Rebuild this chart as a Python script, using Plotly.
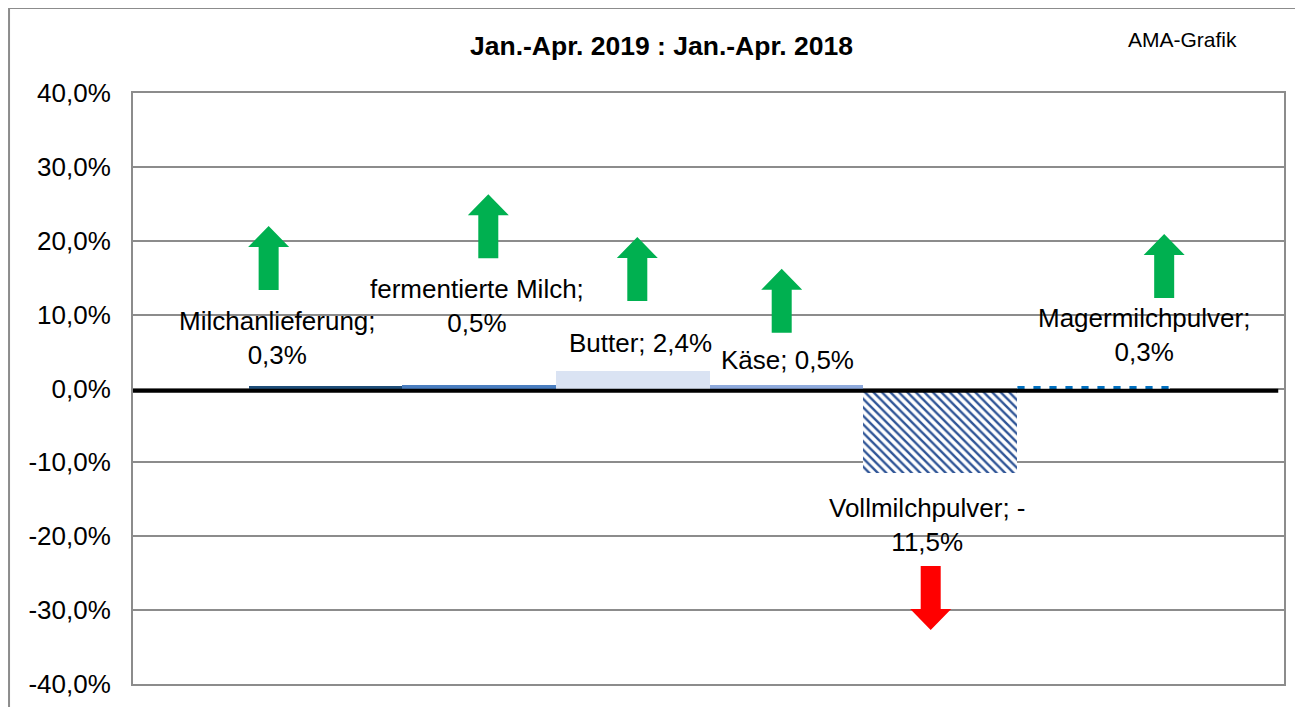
import plotly.graph_objects as go

# Daten
kategorien = ["Milchanlieferung", "fermentierte Milch", "Butter", "Käse",
              "Vollmilchpulver", "Magermilchpulver"]
werte = [0.3, 0.5, 2.4, 0.5, -11.5, 0.3]
x_pos = [1, 2, 3, 4, 5, 6]

# Beschriftungen (Position der Datenbeschriftung)
label_x = [0.69, 1.985, 3.05, 4.01, 4.92, 6.33]
label_y = [6.8, 11.2, 6.2, 3.9, -18.5, 7.2]
label_umbruch = [True, True, False, False, True, True]

# Pfeile (Spitze)
pfeil_x = [0.63, 2.06, 3.03, 3.97, 4.94, 6.46]
pfeil_spitze = [22.0, 26.3, 20.5, 16.2, -32.7, 20.9]

y_ticks = [-40, -30, -20, -10, 0, 10, 20, 30, 40]

farben = ["#1F4E79", "#4A7EC0", "#DAE3F3", "#8FAADC", "#2F5597", "#0070C0"]
muster = ["", "", "", "", "\\", "|"]
muster_groesse = [8, 8, 8, 8, 6, 16]
muster_dichte = [0.3, 0.3, 0.3, 0.3, 0.4, 0.45]

FONT = "Arial, Liberation Sans, sans-serif"


def prozent(v):
    return f"{v:.1f}".replace(".", ",") + "%"


def beschriftung(kat, v, umbruch):
    zahl = prozent(abs(v))
    vz = "-" if v < 0 else ""
    if umbruch:
        return f"{kat}; {vz}<br>{zahl}" if vz else f"{kat};<br>{zahl}"
    return f"{kat}; {vz}{zahl}"


fig = go.Figure()

# ein Balken je Kategorie (Farbe / Muster unterschiedlich)
for kat, xp, v, farbe, m, gr, di in zip(kategorien, x_pos, werte, farben,
                                         muster, muster_groesse, muster_dichte):
    if m:
        marker = dict(color="white", line=dict(width=0),
                      pattern=dict(shape=m, fgcolor=farbe, bgcolor="white",
                                   size=gr, solidity=di, fillmode="replace"))
    else:
        marker = dict(color=farbe, line=dict(width=0))
    fig.add_trace(go.Bar(x=[xp], y=[v], width=1, name=kat, marker=marker,
                         hoverinfo="skip"))

# Datenbeschriftungen
for kat, v, lx, ly, umb in zip(kategorien, werte, label_x, label_y, label_umbruch):
    fig.add_annotation(x=lx, y=ly, xref="x", yref="y",
                       text=beschriftung(kat, v, umb), showarrow=False,
                       font=dict(family=FONT, size=26, color="black"),
                       xanchor="center", yanchor="middle", align="center")

# Pfeile
pfad_hoch = "M0,0 L20.5,-21 L10,-21 L10,-64 L-10,-64 L-10,-21 L-20.5,-21 Z"
pfad_runter = "M0,0 L20.5,21 L10,21 L10,64 L-10,64 L-10,21 L-20.5,21 Z"
for px, sp, v in zip(pfeil_x, pfeil_spitze, werte):
    fig.add_shape(type="path", xref="x", yref="y",
                  xsizemode="pixel", ysizemode="pixel",
                  xanchor=px, yanchor=sp,
                  path=pfad_hoch if v >= 0 else pfad_runter,
                  fillcolor="#00B050" if v >= 0 else "#FF0000",
                  line=dict(width=0), layer="above")

# Nulllinie (etwas unterhalb der Balkenbasis wie im Original)
fig.add_shape(type="line", xref="paper", yref="y", ysizemode="pixel", yanchor=0,
              x0=0, x1=0.995, y0=-2.2, y1=-2.2,
              line=dict(color="black", width=4), layer="above")

# Rahmen um das Diagramm
fig.add_shape(type="rect", xref="paper", yref="paper",
              x0=-0.1077, x1=1.0148, y0=-0.2, y1=1.1438,
              line=dict(color="#8C8C8C", width=2), layer="below")

fig.add_annotation(text="<b>Jan.-Apr. 2019 : Jan.-Apr. 2018</b>",
                   xref="paper", yref="paper", x=0.459, y=1.0795,
                   showarrow=False, xanchor="center", yanchor="middle",
                   font=dict(family=FONT, size=26.5, color="black"))
fig.add_annotation(text="AMA-Grafik", xref="paper", yref="paper",
                   x=0.912, y=1.0905, showarrow=False,
                   xanchor="center", yanchor="middle",
                   font=dict(family=FONT, size=21, color="black"))

# Seite hat 8px Rand -> Ränder entsprechend verschoben
fig.update_layout(
    width=1303, height=707,
    margin=dict(l=125, r=27, t=85, b=31, autoexpand=False),
    paper_bgcolor="white", plot_bgcolor="white",
    showlegend=False,
    barmode="overlay",
    bargap=0,
    xaxis=dict(range=[-0.253, 7.24], showgrid=False, zeroline=False,
               showticklabels=False, ticks="", showline=True, mirror=True,
               linecolor="#8C8C8C", linewidth=2, automargin=False),
    yaxis=dict(range=[-40, 40], tickvals=y_ticks,
               ticktext=[prozent(t) for t in y_ticks],
               showgrid=True, gridcolor="#8C8C8C",
               gridwidth=2, zeroline=False, showline=True, mirror=True,
               linecolor="#8C8C8C", linewidth=2, ticks="",
               ticklabelstandoff=15, automargin=False,
               tickfont=dict(family=FONT, size=26, color="black")),
)

fig.write_html("out.html")
